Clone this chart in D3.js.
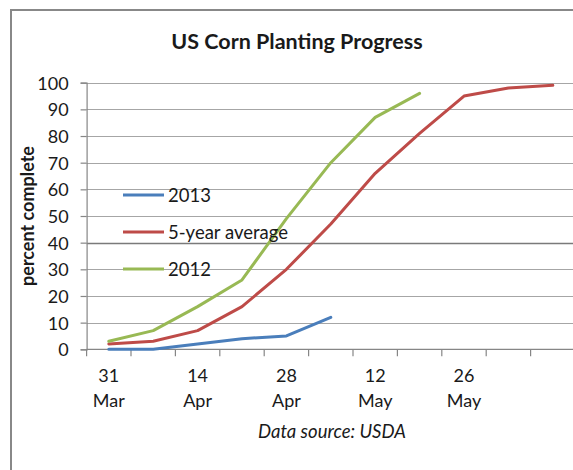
<!DOCTYPE html>
<html>
<head>
<meta charset="utf-8">
<script src="https://cdn.jsdelivr.net/npm/d3@7"></script>
<style>
  body { margin: 0; background: #fff; }
  svg text { font-family: Lato, "Open Sans", sans-serif; fill: #1a1a1a; }
</style>
</head>
<body>
<div id="chart"></div>
<script>
// weekly report dates (category axis)
var weeks = ["31 Mar", "7 Apr", "14 Apr", "21 Apr", "28 Apr", "5 May", "12 May", "19 May", "26 May", "2 Jun", "9 Jun"];
var labelWeeks = ["31 Mar", "14 Apr", "28 Apr", "12 May", "26 May"];
var yTicks = [0, 10, 20, 30, 40, 50, 60, 70, 80, 90, 100];

var seriesNames = ["2013", "5-year average", "2012"];
var vals2013 = [0, 0, 2, 4, 5, 12];
var valsAvg = [2, 3, 7, 16, 30, 47, 66, 81, 95, 98, 99];
var vals2012 = [3, 7, 16, 26, 49, 70, 87, 96];

var colors = ["#4a7ebb", "#be4b48", "#98b954"];

var W = 573, H = 470;
var margin = { top: 82.7, left: 86.6, bottom: 120.7 };
var plotW = 44.4 * weeks.length;
var plotH = H - margin.top - margin.bottom;

var svg = d3.select("#chart").append("svg")
  .attr("width", W)
  .attr("height", H);

// outer chart border
svg.append("rect")
  .attr("x", 11).attr("y", 10)
  .attr("width", W + 20).attr("height", H + 20)
  .attr("fill", "none")
  .attr("stroke", "#888")
  .attr("stroke-width", 2);

var x = d3.scaleBand().domain(weeks).range([margin.left, margin.left + plotW]).padding(0);
var y = d3.scaleLinear().domain([0, 100]).range([margin.top + plotH, margin.top]);
var cx = d => x(d) + x.bandwidth() / 2;

// gridlines
svg.append("g").selectAll("line")
  .data(yTicks.filter(d => d > 0))
  .enter().append("line")
  .attr("x1", margin.left)
  .attr("x2", margin.left + plotW)
  .attr("y1", d => Math.round(y(d)) + 0.5)
  .attr("y2", d => Math.round(y(d)) + 0.5)
  .attr("stroke", d => d == 40 ? "#7a7a7a" : "#a6a6a6")
  .attr("stroke-width", d => d == 40 ? 1.6 : 1.2);

// y axis
var yAxis = svg.append("g")
  .attr("transform", `translate(${margin.left},0)`)
  .call(d3.axisLeft(y).tickValues(yTicks).tickSize(6).tickPadding(12));
yAxis.select(".domain").attr("stroke", "#868686").attr("stroke-width", 1.2);
yAxis.selectAll(".tick line").attr("stroke", "#868686").attr("stroke-width", 1.2);
yAxis.selectAll(".tick text")
  .style("font-size", "18px")
  .style("font-family", "Lato, sans-serif")
  .attr("fill", "#1a1a1a")
  .attr("dy", "0.36em");

// x axis: ticks between categories
var xAxisG = svg.append("g")
  .attr("transform", `translate(0,${y(0)})`);
xAxisG.append("line")
  .attr("x1", margin.left).attr("x2", margin.left + plotW)
  .attr("stroke", "#868686").attr("stroke-width", 1.2);
xAxisG.selectAll(".xt")
  .data(weeks.concat(["end"]))
  .enter().append("line")
  .attr("class", "xt")
  .attr("x1", (d, i) => margin.left + i * x.bandwidth())
  .attr("x2", (d, i) => margin.left + i * x.bandwidth())
  .attr("y1", 0).attr("y2", 7)
  .attr("stroke", "#868686").attr("stroke-width", 1.2);

var lbl = xAxisG.selectAll(".xl")
  .data(labelWeeks)
  .enter().append("text")
  .attr("class", "xl")
  .attr("text-anchor", "middle")
  .attr("x", d => cx(d))
  .style("font-size", "18px");
lbl.append("tspan").attr("x", d => cx(d)).attr("y", 33).text(d => d.split(" ")[0]);
lbl.append("tspan").attr("x", d => cx(d)).attr("y", 58).text(d => d.split(" ")[1]);

// series lines
var line = d3.line()
  .x((d, i) => cx(weeks[i]))
  .y(d => y(d));

[vals2013, valsAvg, vals2012].forEach((vals, k) => {
  svg.append("path")
    .datum(vals)
    .attr("d", line)
    .attr("fill", "none")
    .attr("stroke", colors[k])
    .attr("stroke-width", 3)
    .attr("stroke-linejoin", "round")
    .attr("stroke-linecap", "round");
});

// legend
var legend = svg.append("g").selectAll("g")
  .data(seriesNames)
  .enter().append("g")
  .attr("transform", (d, i) => `translate(123,${195 + i * 37})`);
legend.append("line")
  .attr("x1", 0).attr("x2", 41)
  .attr("stroke", (d, i) => colors[i])
  .attr("stroke-width", 3);
legend.append("text")
  .attr("x", 45)
  .attr("dy", "0.36em")
  .style("font-size", "18.5px")
  .text(d => d);

// title
svg.append("text")
  .attr("x", 297).attr("y", 49)
  .attr("text-anchor", "middle")
  .style("font-size", "21.5px")
  .style("font-weight", "bold")
  .text("US Corn Planting Progress");

// y label
svg.append("text")
  .attr("transform", "translate(34,216) rotate(-90)")
  .attr("text-anchor", "middle")
  .style("font-size", "18px")
  .style("font-weight", "bold")
  .text("percent complete");

// source note
svg.append("text")
  .attr("x", 332).attr("y", 438)
  .attr("text-anchor", "middle")
  .style("font-size", "18.5px")
  .style("font-style", "italic")
  .text("Data source: USDA");
</script>
</body>
</html>
